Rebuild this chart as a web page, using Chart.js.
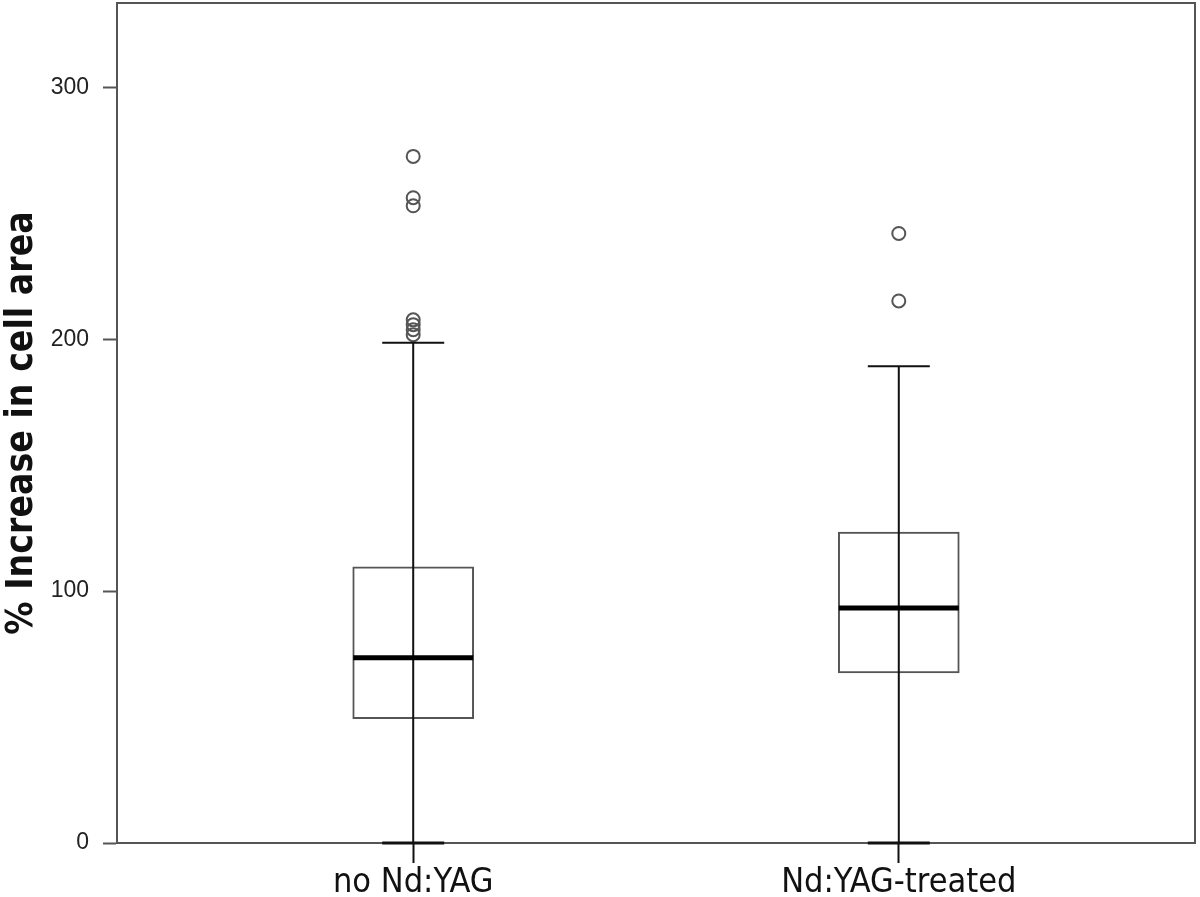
<!DOCTYPE html>
<html>
<head>
<meta charset="utf-8">
<script src="https://cdn.jsdelivr.net/npm/chart.js@4.4.1/dist/chart.umd.min.js"></script>
<style>
  html, body { margin: 0; padding: 0; background: #fff; }
  #wrap { width: 1200px; height: 897px; }
</style>
</head>
<body>
<div id="wrap"><canvas id="chart"></canvas></div>
<script>
// box plot data
const groups = ["no Nd:YAG", "Nd:YAG-treated"];
const whiskerLow = [0, 0];
const q1 = [49.4, 67.5];
const median = [73.5, 93.3];
const q3 = [109.6, 123.4];
const whiskerHigh = [198.6, 189.3];
const outliersNoYag = [272.6, 256.2, 253.0, 207.7, 205.8, 203.8, 201.8];
const outliersTreated = [242.0, 215.2];
const yTicks = [0, 100, 200, 300];

// frame round the plot area (top and right sides)
const frame = {
    id: "frame",
    afterDraw(chart) {
        const { ctx, chartArea: a } = chart;
        ctx.save();
        ctx.strokeStyle = "#555";
        ctx.lineWidth = 2;
        ctx.beginPath();
        ctx.moveTo(a.left, a.top);
        ctx.lineTo(a.right, a.top);
        ctx.lineTo(a.right, a.bottom);
        ctx.stroke();
        ctx.restore();
    }
};

// whiskers, caps and medians
const boxParts = {
    id: "boxParts",
    afterDatasetsDraw(chart) {
        const ctx = chart.ctx;
        const xs = chart.scales.x;
        const ys = chart.scales.y;
        ctx.save();
        groups.forEach((g, i) => {
            const x = xs.getPixelForValue(i);
            const yLo = ys.getPixelForValue(whiskerLow[i]);
            const yHi = ys.getPixelForValue(whiskerHigh[i]);
            const yMed = ys.getPixelForValue(median[i]);
            ctx.strokeStyle = "#111";
            ctx.lineWidth = 2;
            ctx.beginPath();
            ctx.moveTo(x, yLo);
            ctx.lineTo(x, yHi);
            ctx.moveTo(x - 31, yHi);
            ctx.lineTo(x + 31, yHi);
            ctx.stroke();
            ctx.lineWidth = 3;
            ctx.beginPath();
            ctx.moveTo(x - 31, yLo);
            ctx.lineTo(x + 31, yLo);
            ctx.stroke();
            ctx.strokeStyle = "#000";
            ctx.lineWidth = 5;
            ctx.beginPath();
            ctx.moveTo(x - 60, yMed);
            ctx.lineTo(x + 60, yMed);
            ctx.stroke();
        });
        ctx.restore();
    }
};

new Chart(document.getElementById("chart"), {
    type: "bar",
    data: {
        datasets: [{
            label: "box",
            data: groups.map((g, i) => ({ x: i, y: [q1[i], q3[i]] })),
            backgroundColor: "#fff",
            borderColor: "#555",
            borderWidth: 2,
            borderSkipped: false,
            barThickness: 121
        }, {
            type: "scatter",
            label: "outliers",
            data: outliersNoYag.map(v => ({ x: 0, y: v }))
                .concat(outliersTreated.map(v => ({ x: 1, y: v }))),
            pointRadius: 6.5,
            borderWidth: 2,
            borderColor: "#555",
            backgroundColor: "rgba(255,255,255,0)"
        }]
    },
    options: {
        responsive: true,
        maintainAspectRatio: false,
        animation: false,
        layout: { autoPadding: false, padding: { top: 3, right: 5, left: 0, bottom: 0 } },
        plugins: {
            legend: { display: false },
            tooltip: { enabled: false }
        },
        scales: {
            x: {
                type: "linear",
                offset: false,
                min: -0.61,
                max: 1.61,
                afterBuildTicks: s => { s.ticks = groups.map((g, i) => ({ value: i })); },
                afterFit: s => {
                    s.height = 54;
                    s.paddingLeft = 0;
                    s.paddingRight = 0;
                },
                ticks: {
                    callback: v => groups[v],
                    autoSkip: false,
                    maxRotation: 0,
                    padding: 0,
                    color: "#111",
                    font: { family: "DejaVu Sans Condensed", size: 34 }
                },
                grid: { offset: false, drawOnChartArea: false, tickLength: 20, tickWidth: 2, tickColor: "#111" },
                border: { color: "#555", width: 2 }
            },
            y: {
                min: 0,
                max: 333.5,
                afterBuildTicks: s => { s.ticks = yTicks.map(v => ({ value: v })); },
                afterFit: s => {
                    s.width = 117;
                    s.paddingTop = 0;
                    s.paddingBottom = 0;
                },
                ticks: {
                    padding: 14,
                    color: "#222",
                    font: { family: "Liberation Sans", size: 23 }
                },
                grid: { drawOnChartArea: false, tickLength: 14, tickWidth: 2, tickColor: "#555" },
                border: { color: "#555", width: 2 },
                title: {
                    display: true,
                    text: "% Increase in cell area",
                    color: "#111",
                    padding: 0,
                    font: { family: "DejaVu Sans Condensed", size: 37, weight: "bold" }
                }
            }
        }
    },
    plugins: [frame, boxParts]
});
</script>
</body>
</html>
